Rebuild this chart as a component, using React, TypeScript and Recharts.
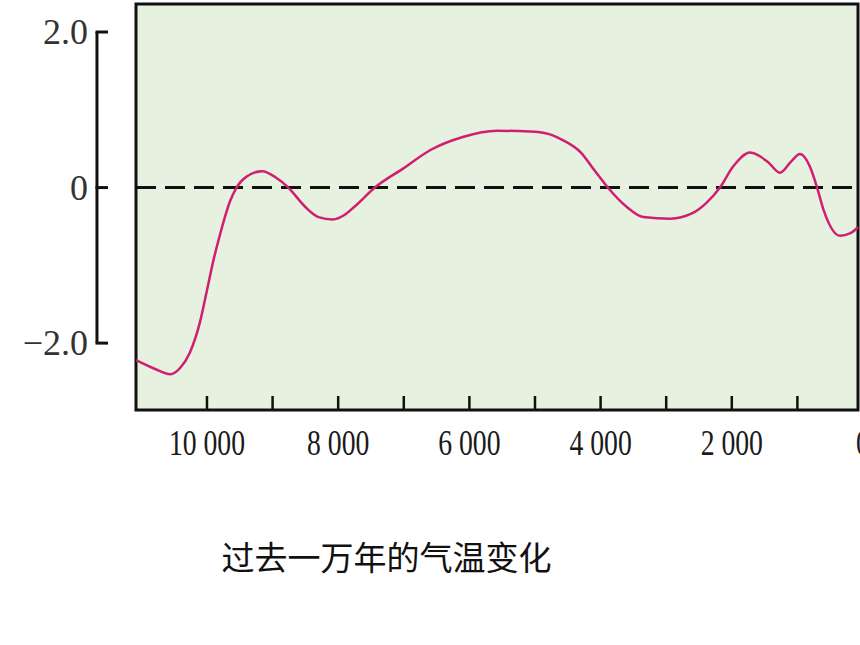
import { LineChart, Line, XAxis, YAxis, ReferenceArea, ReferenceLine } from 'recharts'

// years before present
const years = [
  11082, 10800, 10560, 10410, 10260, 10110, 10000, 9900, 9800, 9650, 9550, 9400, 9160, 8950, 8760, 8500,
  8300, 8080, 7900, 7744, 7440, 7000, 6600, 6100, 5580, 5080, 4800, 4600, 4300, 4100, 3890, 3600, 3350, 2940,
  2600, 2390, 2180, 1980, 1720, 1450, 1265, 1100, 960, 810, 700, 600, 350, 200, 76,
]
// temperature anomaly
const temps = [
  -2.22, -2.33, -2.4, -2.32, -2.12, -1.74, -1.32, -0.93, -0.6, -0.18, 0.0, 0.14, 0.21, 0.13, 0.0, -0.25,
  -0.38, -0.41, -0.35, -0.24, 0.0, 0.25, 0.48, 0.65, 0.73, 0.72, 0.69, 0.62, 0.45, 0.23, 0.0, -0.25, -0.38, -0.4,
  -0.33, -0.2, 0.0, 0.27, 0.45, 0.33, 0.19, 0.33, 0.43, 0.27, 0.0, -0.29, -0.62, -0.59, -0.51,
]
const xTicks = [10000, 9000, 8000, 7000, 6000, 5000, 4000, 3000, 2000, 1000, 0]
const xLabels: Record<number, string> = { 10000: '10 000', 8000: '8 000', 6000: '6 000', 4000: '4 000', 2000: '2 000', 0: '0' }
const yTicks = [-2, 0, 2]
const yLabels: Record<number, string> = { [-2]: '−2.0', 0: '0', 2: '2.0' }

const data = years.map((year, i) => ({ year, temp: temps[i] }))

const X_MAX = 11082
const X_MIN = 76
const Y_MIN = -2.86
const Y_MAX = 2.36
const SPINE_X = 11677

const serif = '"Liberation Serif", "DejaVu Serif", serif'

function XTick({ x, y, payload }: any) {
  const v = payload.value as number
  const label = xLabels[v]
  return (
    <g>
      {v !== 0 && <line x1={x} y1={y} x2={x} y2={y - 14} stroke="#111" strokeWidth={2.5} />}
      {label && (
        <g transform={`translate(${x},${y + 45}) scale(0.77,1)`}>
          <text x={0} y={0} textAnchor="middle" fontFamily={serif} fontSize={36} fill="#1a1a1a">
            {label}
          </text>
        </g>
      )}
    </g>
  )
}

function YTick({ x, y, payload }: any) {
  const v = payload.value as number
  return (
    <g>
      <line x1={x - 1.5} y1={y} x2={x + 11} y2={y} stroke="#111" strokeWidth={3} />
      <text x={x - 9} y={y + 12} textAnchor="end" fontFamily={serif} fontSize={36} fill="#333">
        {yLabels[v]}
      </text>
    </g>
  )
}

export default function App() {
  return (
    <div style={{ position: 'absolute', left: 0, top: 0, width: 860, height: 645, overflow: 'hidden', background: '#fff' }}>
      <LineChart width={870} height={470} data={data} margin={{ top: 4, right: 7, bottom: 0, left: 0 }}>
        <XAxis
          dataKey="year"
          type="number"
          domain={[0, X_MAX]}
          reversed
          allowDataOverflow
          ticks={xTicks}
          interval={0}
          padding={{ left: 39, right: 0 }}
          height={60}
          axisLine={false}
          tickLine={false}
          tickSize={0}
          tickMargin={0}
          tick={<XTick />}
        />
        <YAxis
          type="number"
          domain={[Y_MIN, Y_MAX]}
          allowDataOverflow
          ticks={yTicks}
          width={97}
          axisLine={false}
          tickLine={false}
          tickSize={0}
          tickMargin={0}
          tick={<YTick />}
        />
        <ReferenceArea
          x1={X_MAX}
          x2={X_MIN}
          y1={Y_MIN}
          y2={Y_MAX}
          fill="#e6f1e0"
          fillOpacity={1}
          stroke="#111"
          strokeWidth={3}
        />
        <ReferenceLine
          segment={[{ x: X_MAX, y: 0 }, { x: X_MIN, y: 0 }]}
          stroke="#111"
          strokeWidth={3}
          strokeDasharray="20 9"
        />
        <ReferenceLine
          segment={[{ x: SPINE_X, y: 2 }, { x: SPINE_X, y: -2 }]}
          ifOverflow="visible"
          stroke="#111"
          strokeWidth={3}
        />
        <Line
          type="monotone"
          dataKey="temp"
          stroke="#d11f6f"
          strokeWidth={2.5}
          dot={false}
          activeDot={false}
          isAnimationActive={false}
        />
      </LineChart>
      <div
        style={{
          position: 'absolute',
          left: 0,
          top: 536,
          width: 773,
          textAlign: 'center',
          fontFamily: '"Noto Sans CJK SC", sans-serif',
          fontSize: 33,
          lineHeight: '40px',
          color: '#111',
        }}
      >
        过去一万年的气温变化
      </div>
    </div>
  )
}
